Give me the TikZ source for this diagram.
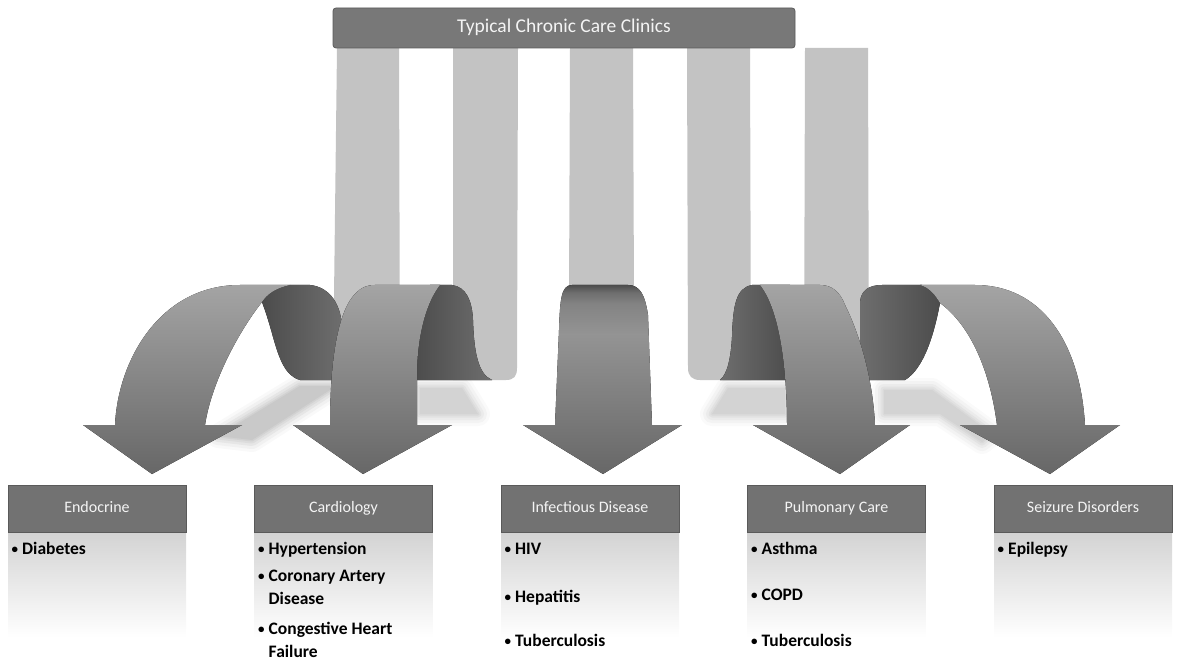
\documentclass[tikz,border=0pt]{standalone}
\usepackage{fontspec}
\setmainfont{Carlito}
\definecolor{ribbonc}{HTML}{C3C3C3}
\definecolor{hdrc}{HTML}{727272}
\definecolor{hdredge}{HTML}{5A5A5A}
\definecolor{hdrtext}{HTML}{F4F4F4}
\definecolor{curldark}{HTML}{4C4C4C}
\definecolor{curllight}{HTML}{6E6E6E}
\definecolor{arrowtop}{HTML}{A4A4A4}
\definecolor{arrowbot}{HTML}{676767}
\definecolor{shadowA}{HTML}{989898}
\definecolor{shadowB}{HTML}{ABABAB}
\definecolor{bodytop}{HTML}{D3D3D3}
\pgfdeclareverticalshading{infshade}{100bp}{color(0bp)=(arrowbot); color(25bp)=(arrowbot); color(62bp)=(arrowtop!90!black); color(70bp)=(arrowtop!80!black); color(73bp)=(curllight); color(75bp)=(curldark); color(100bp)=(curldark)}
\newcommand{\softshadow}[2]{%
  \foreach \w/\p in {24/6,18/14,12/24,7/34,3/44}{%
    \filldraw[draw=#2!\p!white, fill=#2!\p!white, line width=\w pt, line join=round] #1;}%
  \fill[#2!52!white] #1;}
\tikzset{
  ribbonstyle/.style={fill=ribbonc},
  curlL/.style={left color=curldark, right color=curllight},
  curlR/.style={left color=curllight, right color=curldark},
  frontstyle/.style={top color=arrowtop, bottom color=arrowbot},
  hdrbox/.style={draw=hdredge, line width=0.8pt, fill=hdrc, text=hdrtext, minimum width=178pt, minimum height=47pt, inner sep=0pt, text height=11.5pt, text depth=3.5pt, font=\fontsize{16}{19}\selectfont},
  bodybox/.style={top color=bodytop, bottom color=white, minimum width=178pt, minimum height=105pt, inner sep=0pt, anchor=north},
  titlebox/.style={draw=hdredge, line width=0.8pt, fill=hdrc!105!black, rounded corners=3pt, text=hdrtext, minimum width=462pt, minimum height=40pt, inner sep=0pt, text height=14pt, text depth=4pt, font=\fontsize{19.5}{22}\selectfont},
  bul/.style={anchor=base west, inner sep=0pt, font=\bfseries\fontsize{13}{15}\selectfont},
  itemtext/.style={anchor=base west, inner sep=0pt, font=\bfseries\fontsize{17.5}{20}\selectfont}
}
\begin{document}
\begin{tikzpicture}[x=1pt,y=-1pt]
\useasboundingbox (0,0) rectangle (1186,668);
% ---------- soft shadows ----------
\softshadow{(218,436) -- (300,386) -- (336,386) -- (252,440) -- cycle}{shadowA}
\softshadow{(420,388) -- (462,388) -- (478,414) -- (420,414) -- cycle}{shadowB}
\softshadow{(728,388) -- (785,388) -- (785,414) -- (712,414) -- cycle}{shadowB}
\softshadow{(884,390) -- (932,390) -- (992,434) -- (982,442) -- (940,414) -- (884,414) -- cycle}{shadowB}
% ---------- vertical ribbons ----------
\fill[ribbonstyle] (337,48) -- (399,48) -- (400,380) -- (333,380) -- cycle;
\fill[ribbonstyle] (453,48) -- (518,48) -- (517,368) .. controls (517,376) and (514,380) .. (506,380) -- (453,380) -- cycle;
\fill[ribbonstyle] (570,48) -- (633,48) -- (634,300) -- (569,300) -- cycle;
\fill[ribbonstyle] (687,48) -- (750,48) -- (751,380) -- (700,380) .. controls (692,380) and (688,376) .. (688,368) -- cycle;
\fill[ribbonstyle] (805,48) -- (868,48) -- (869,380) -- (804,380) -- cycle;
% ---------- Endocrine ----------
\fill[curlL] (262,302) .. controls (268,292) and (276,286) .. (290,285) -- (310,285) .. controls (330,287) and (342,305) .. (342,330) -- (342,380) -- (300,380) .. controls (285,376) and (279,358) .. (273,337) .. controls (269,322) and (265,310) .. (262,302) -- cycle;
\fill[frontstyle] (115,425) .. controls (118,360) and (160,285) .. (240,285) -- (290,285) .. controls (276,288) and (267,294) .. (262,302) .. controls (240,330) and (212,380) .. (205,425) -- (242,425) -- (152,474) -- (83,425) -- cycle;
% ---------- Cardiology ----------
\fill[curlL] (430,285) -- (452,285) .. controls (466,287) and (472,300) .. (473,320) .. controls (474,352) and (478,374) .. (492,380) -- (415,380) -- (415,300) -- cycle;
\fill[frontstyle] (330,425) .. controls (330,360) and (338,310) .. (356,293) .. controls (361,288) and (366,285) .. (375,285) -- (440,285) .. controls (428,300) and (418,330) .. (417,370) -- (417,425) -- (452,425) -- (363,474) -- (293,425) -- cycle;
% ---------- Infectious Disease ----------
\fill[shading=infshade] (555,425) -- (559,330) .. controls (560,300) and (561,285) .. (572,285) -- (628,285) .. controls (640,285) and (645,295) .. (648,315) -- (652,425) -- (682,425) -- (603,474) -- (523,425) -- cycle;
% ---------- Pulmonary ----------
\fill[curlR] (720,380) .. controls (728,374) and (731,355) .. (732,337) .. controls (733,305) and (736,288) .. (752,285) -- (790,285) -- (790,380) -- cycle;
\fill[curlR] (860,380) -- (860,302) .. controls (861,291) and (868,285) .. (882,285) -- (922,285) .. controls (932,288) and (938,296) .. (940,303) .. controls (935,330) and (925,368) .. (905,380) -- cycle;
\fill[frontstyle] (787,425) .. controls (787,370) and (780,310) .. (760,285) -- (820,285) .. controls (832,285) and (840,292) .. (845,305) .. controls (860,335) and (873,380) .. (875,425) -- (910,425) -- (840,474) -- (753,425) -- cycle;
% ---------- Seizure ----------
\fill[frontstyle] (997,425) .. controls (990,370) and (970,325) .. (940,303) .. controls (935,295) and (930,288) .. (920,285) -- (975,285) .. controls (1040,285) and (1080,340) .. (1085,425) -- (1120,425) -- (1050,474) -- (960,425) -- cycle;
% ---------- title ----------
\node[titlebox] (title) at (564,28) {Typical Chronic Care Clinics};
% ---------- bottom boxes ----------
\node[bodybox] (bEndo) at (97,532) {};
\node[bodybox] (bCard) at (343.5,532) {};
\node[bodybox] (bInf) at (590,532) {};
\node[bodybox] (bPul) at (836.5,532) {};
\node[bodybox] (bSei) at (1083,532) {};
\node[hdrbox] (hEndo) at (97,508.5) {Endocrine};
\node[hdrbox] (hCard) at (343.5,508.5) {Cardiology};
\node[hdrbox] (hInf) at (590,508.5) {Infectious Disease};
\node[hdrbox] (hPul) at (836.5,508.5) {Pulmonary Care};
\node[hdrbox] (hSei) at (1083,508.5) {Seizure Disorders};
% items
\node[bul] (e1b) at (11.5,553) {•};
\node[itemtext] (e1) at (22,554) {Diabetes};
\node[bul] (c1b) at (258,553) {•};
\node[itemtext] (c1) at (268.5,554) {Hypertension};
\node[bul] (c2b) at (258,580) {•};
\node[itemtext] (c2) at (268.5,581) {Coronary Artery};
\node[itemtext] (c2x) at (268.5,604) {Disease};
\node[bul] (c3b) at (258,633) {•};
\node[itemtext] (c3) at (268.5,634) {Congestive Heart};
\node[itemtext] (c3x) at (268.5,657) {Failure};
\node[bul] (i1b) at (504.5,553) {•};
\node[itemtext] (i1) at (515,554) {HIV};
\node[bul] (i2b) at (504.5,601) {•};
\node[itemtext] (i2) at (515,602) {Hepatitis};
\node[bul] (i3b) at (504.5,645) {•};
\node[itemtext] (i3) at (515,646) {Tuberculosis};
\node[bul] (p1b) at (751,553) {•};
\node[itemtext] (p1) at (761.5,554) {Asthma};
\node[bul] (p2b) at (751,599) {•};
\node[itemtext] (p2) at (761.5,600) {COPD};
\node[bul] (p3b) at (751,645) {•};
\node[itemtext] (p3) at (761.5,646) {Tuberculosis};
\node[bul] (s1b) at (997.5,553) {•};
\node[itemtext] (s1) at (1008,554) {Epilepsy};
\end{tikzpicture}
\end{document}
